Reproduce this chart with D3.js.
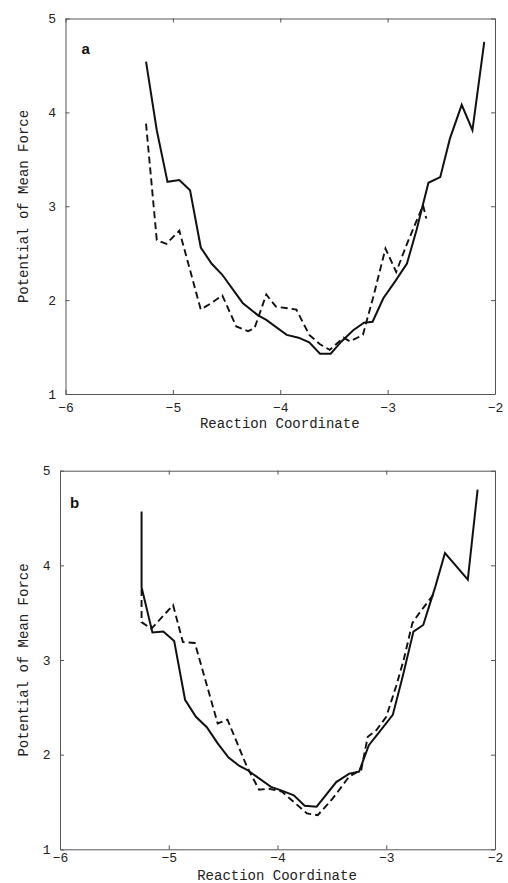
<!DOCTYPE html>
<html>
<head>
<meta charset="utf-8">
<script src="https://cdn.jsdelivr.net/npm/d3@7"></script>
<style>
  html, body { margin: 0; padding: 0; background: #fff; }
  svg { display: block; }
</style>
</head>
<body>
<svg id="chart" width="508" height="883"></svg>
<script>
// ---- data ----
const xTicks = [-6, -5, -4, -3, -2];
const yTicks = [1, 2, 3, 4, 5];
const xTitle = "Reaction Coordinate";
const yTitle = "Potential of Mean Force";
const panelNames = ["a", "b"];

// panel a, solid curve
const aSolidX = [-5.25, -5.15, -5.05, -4.94, -4.84, -4.74, -4.64, -4.54, -4.35, -4.21, -4.13, -3.94, -3.83, -3.73, -3.63,
                 -3.53, -3.43, -3.32, -3.22, -3.14, -3.04, -2.93, -2.82, -2.73, -2.62, -2.51, -2.42, -2.31, -2.21, -2.10];
const aSolidY = [4.54, 3.81, 3.26, 3.28, 3.17, 2.56, 2.39, 2.27, 1.97, 1.84, 1.79, 1.63, 1.60, 1.55, 1.43,
                 1.43, 1.56, 1.68, 1.76, 1.77, 2.02, 2.20, 2.39, 2.75, 3.25, 3.31, 3.72, 4.08, 3.81, 4.75];
// panel a, dashed curve
const aDashX = [-5.25, -5.15, -5.06, -4.94, -4.74, -4.64, -4.54, -4.41, -4.30, -4.24, -4.13, -4.04, -3.85, -3.73, -3.63,
                -3.54, -3.41, -3.35, -3.23, -3.13, -3.02, -2.92, -2.82, -2.67, -2.64];
const aDashY = [3.88, 2.64, 2.60, 2.74, 1.90, 1.97, 2.05, 1.72, 1.67, 1.70, 2.06, 1.93, 1.90, 1.63, 1.53,
                1.47, 1.60, 1.56, 1.63, 2.05, 2.55, 2.30, 2.60, 3.01, 2.87];

// panel b, solid curve
const bSolidX = [-5.25, -5.25, -5.15, -5.05, -4.95, -4.85, -4.75, -4.65, -4.55, -4.45, -4.35, -4.28, -4.06, -3.96, -3.85,
                 -3.75, -3.64, -3.46, -3.34, -3.25, -3.16, -3.05, -2.94, -2.85, -2.75, -2.66, -2.55, -2.46, -2.25, -2.16];
const bSolidY = [4.57, 3.77, 3.29, 3.30, 3.20, 2.58, 2.40, 2.29, 2.12, 1.97, 1.88, 1.84, 1.66, 1.62, 1.57,
                 1.46, 1.45, 1.71, 1.80, 1.82, 2.10, 2.26, 2.42, 2.82, 3.30, 3.37, 3.77, 4.13, 3.85, 4.80];
// panel b, dashed curve
const bDashX = [-5.25, -5.25, -5.16, -4.96, -4.87, -4.76, -4.55, -4.46, -4.28, -4.17, -4.08, -3.96, -3.85, -3.73, -3.63,
                -3.49, -3.34, -3.23, -3.17, -3.09, -3.00, -2.91, -2.84, -2.76, -2.70, -2.56];
const bDashY = [3.75, 3.40, 3.33, 3.58, 3.19, 3.18, 2.33, 2.37, 1.87, 1.63, 1.64, 1.61, 1.50, 1.38, 1.36,
                1.54, 1.77, 1.84, 2.19, 2.26, 2.40, 2.72, 3.00, 3.39, 3.49, 3.70];

// ---- layout ----
const layouts = [
  { left: 65.5, right: 495, top: 18.5, bottom: 394, padX: 8.3, padY: 9.5, titleY: 427.5, yTitleX: 27.5, yTitleC: 206.5, nameX: 81.5, nameY: 53.5 },
  { left: 60, right: 495, top: 470.7, bottom: 849.3, padX: 3, padY: 9.5, titleY: 879.5, yTitleX: 27.5, yTitleC: 660, nameX: 70, nameY: 508 }
];
const series = [
  { solid: d3.zip(aSolidX, aSolidY), dashed: d3.zip(aDashX, aDashY) },
  { solid: d3.zip(bSolidX, bSolidY), dashed: d3.zip(bDashX, bDashY) }
];

const svg = d3.select("#chart");
svg.append("rect").attr("width", 508).attr("height", 883).attr("fill", "#fff");

const fmt = d => (d < 0 ? "\u2212" + Math.abs(d) : String(d));
const MONO = "'Liberation Mono', 'DejaVu Sans Mono', monospace";
const FRAME = "#555";

function styleAxis(sel) {
  sel.attr("font-family", null).attr("font-size", null);
  sel.select(".domain").attr("stroke", FRAME).attr("stroke-width", 1);
  sel.selectAll(".tick line").attr("stroke", FRAME).attr("stroke-width", 1);
  sel.selectAll(".tick text")
    .style("font-family", MONO).style("font-size", "13px").attr("fill", "#222");
}

layouts.forEach((L, i) => {
  const g = svg.append("g");
  const x = d3.scaleLinear().domain([-6, -2]).range([L.left, L.right]);
  const y = d3.scaleLinear().domain([1, 5]).range([L.bottom, L.top]);

  // frame with inward ticks on all four sides
  g.append("g").attr("transform", `translate(0,${L.bottom})`)
    .call(d3.axisBottom(x).tickValues(xTicks).tickSize(-4).tickSizeOuter(0).tickPadding(L.padX).tickFormat(fmt))
    .call(styleAxis);
  g.append("g").attr("transform", `translate(0,${L.top})`)
    .call(d3.axisTop(x).tickValues(xTicks).tickSize(-4).tickSizeOuter(0).tickFormat(""))
    .call(styleAxis);
  g.append("g").attr("transform", `translate(${L.left},0)`)
    .call(d3.axisLeft(y).tickValues(yTicks).tickSize(-4).tickSizeOuter(0).tickPadding(L.padY).tickFormat(fmt))
    .call(styleAxis);
  g.append("g").attr("transform", `translate(${L.right},0)`)
    .call(d3.axisRight(y).tickValues(yTicks).tickSize(-4).tickSizeOuter(0).tickFormat(""))
    .call(styleAxis);

  const line = d3.line().x(d => x(d[0])).y(d => y(d[1]));
  g.append("path").datum(series[i].dashed)
    .attr("d", line).attr("fill", "none").attr("stroke", "#111")
    .attr("stroke-width", 1.9).attr("stroke-dasharray", "7,4");
  g.append("path").datum(series[i].solid)
    .attr("d", line).attr("fill", "none").attr("stroke", "#111")
    .attr("stroke-width", 2).attr("stroke-linejoin", "miter");

  // axis titles
  g.append("text").attr("x", (L.left + L.right) / 2 - 0.5).attr("y", L.titleY)
    .attr("text-anchor", "middle").style("font-family", MONO).style("font-size", "14px")
    .attr("fill", "#222").text(xTitle);
  g.append("text")
    .attr("transform", `translate(${L.yTitleX},${L.yTitleC}) rotate(-90)`)
    .attr("text-anchor", "middle").style("font-family", MONO).style("font-size", "14px")
    .attr("fill", "#222").text(yTitle);

  // panel letter
  g.append("text").attr("x", L.nameX).attr("y", L.nameY)
    .style("font-family", "'Liberation Sans', Arial, sans-serif").style("font-size", "15px")
    .style("font-weight", "bold").attr("fill", "#111").text(panelNames[i]);
});
</script>
</body>
</html>
